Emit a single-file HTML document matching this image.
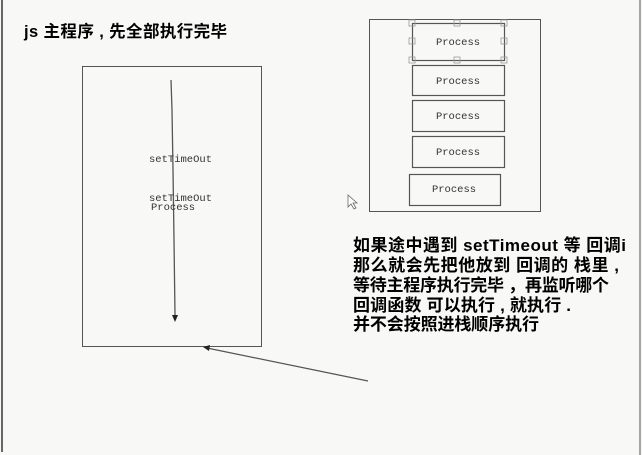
<!DOCTYPE html>
<html><head><meta charset="utf-8"><style>
html,body{margin:0;padding:0;background:#f8f8f6;}
svg{display:block}
.cn{font-family:"Liberation Sans","WenQuanYi Zen Hei","Noto Sans CJK SC",sans-serif;font-weight:bold;fill:#000;}
.m{font-family:"Liberation Mono",monospace;font-size:10.5px;fill:#333;}
</style></head><body>
<svg width="642" height="455" viewBox="0 0 642 455" xmlns="http://www.w3.org/2000/svg">
<rect width="642" height="455" fill="#f8f8f6"/>
<line x1="2" y1="0" x2="2" y2="452" stroke="#666" stroke-width="2"/>
<line x1="640" y1="0" x2="640" y2="455" stroke="#888" stroke-width="1.5"/>
<text x="24" y="37" class="cn" font-size="16.5" textLength="203" lengthAdjust="spacing">js 主程序 , 先全部执行完毕</text>
<rect x="82.5" y="66.5" width="179" height="280" fill="none" stroke="#555" stroke-width="1"/>
<polyline points="171,80 172,110 173,170 174,240 175,315" fill="none" stroke="#555" stroke-width="1.3"/>
<polygon points="172,315 178,315 175,322" fill="#222"/>
<text x="149" y="162" class="m">setTimeOut</text>
<text x="149" y="201" class="m">setTimeOut</text>
<text x="151" y="210" class="m">Process</text>
<line x1="368" y1="381" x2="207" y2="348" stroke="#555" stroke-width="1.2"/>
<polygon points="203,347 210,345 209,351" fill="#222"/>
<rect x="369.5" y="19.5" width="171" height="192" fill="none" stroke="#555"/>
<rect x="412.5" y="23.5" width="92" height="37" fill="none" stroke="#555" stroke-width="1.2"/>
<g fill="none" stroke="#999" stroke-width="0.8">
<rect x="409" y="20" width="6" height="6"/><rect x="454" y="20" width="6" height="6"/><rect x="501" y="20" width="6" height="6"/>
<rect x="409" y="38" width="6" height="6"/><rect x="501" y="38" width="6" height="6"/>
<rect x="409" y="57" width="6" height="6"/><rect x="454" y="57" width="6" height="6"/><rect x="501" y="57" width="6" height="6"/>
</g>
<text x="458" y="45" class="m" text-anchor="middle">Process</text>
<rect x="412.5" y="65.5" width="92" height="30" fill="none" stroke="#555" stroke-width="1.2"/>
<text x="458" y="84" class="m" text-anchor="middle">Process</text>
<rect x="412.5" y="100.5" width="92" height="31" fill="none" stroke="#555" stroke-width="1.2"/>
<text x="458" y="119" class="m" text-anchor="middle">Process</text>
<rect x="412.5" y="136.5" width="92" height="31" fill="none" stroke="#555" stroke-width="1.2"/>
<text x="458" y="155" class="m" text-anchor="middle">Process</text>
<rect x="409.5" y="174.5" width="91" height="31" fill="none" stroke="#555" stroke-width="1.2"/>
<text x="454" y="192" class="m" text-anchor="middle">Process</text>
<polygon points="348,195 348,207 351,204 354,209 356,208 353,203 357,203" fill="#fff" stroke="#666" stroke-width="0.8"/>
<g class="cn" font-size="17">
<text x="353" y="251" textLength="273" lengthAdjust="spacing">如果途中遇到 setTimeout 等 回调i</text>
<text x="353" y="271" textLength="266" lengthAdjust="spacing">那么就会先把他放到 回调的 栈里 ,</text>
<text x="353" y="291" textLength="256" lengthAdjust="spacing">等待主程序执行完毕 ，再监听哪个</text>
<text x="353" y="311" textLength="218" lengthAdjust="spacing">回调函数 可以执行 , 就执行 .</text>
<text x="353" y="330" textLength="186" lengthAdjust="spacing">并不会按照进栈顺序执行</text>
</g>
</svg>
</body></html>
